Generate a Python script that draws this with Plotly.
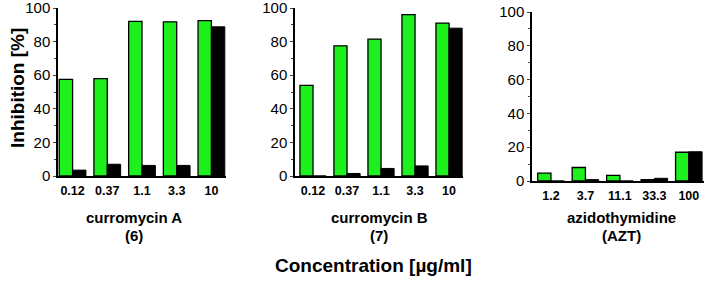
import plotly.graph_objects as go

W, H = 708, 284

conc_a = ["0.12", "0.37", "1.1", "3.3", "10"]
green_a = [57.5, 58, 92, 91.8, 92.5]
black_a = [3.5, 7, 6.3, 6.3, 88.8]

conc_b = ["0.12", "0.37", "1.1", "3.3", "10"]
green_b = [54, 77.5, 81.5, 96, 91]
black_b = [0, 1.5, 4.5, 6, 88]

conc_c = ["1.2", "3.7", "11.1", "33.3", "100"]
green_c = [4.7, 8, 3.3, 0.8, 17]
black_c = [0, 0.8, 0, 1.6, 17.3]

panel_titles = [("curromycin A", "(6)"), ("curromycin B", "(7)"), ("azidothymidine", "(AZT)")]
y_title = "Inhibition [%]"
x_title = "Concentration [µg/ml]"

GREEN = "#1ef01e"
FONT = "Liberation Sans, Arial, sans-serif"

panels = [(conc_a, green_a, black_a), (conc_b, green_b, black_b), (conc_c, green_c, black_c)]
xdom_px = [(58, 226), (295, 463), (532, 704)]
ydom_px = [(8, 176), (8, 176), (12, 181)]
xranges = [[-0.42, 4.42], [-0.53, 4.41], [-0.55, 4.44]]
title_dx = [-8, 0, 3]

fig = go.Figure()
layout = dict(
    width=W, height=H, margin=dict(l=0, r=0, t=0, b=0, autoexpand=False),
    paper_bgcolor="white", plot_bgcolor="white",
    showlegend=False, barmode="group", bargap=0.23, bargroupgap=0,
    font=dict(family=FONT, color="black"),
)
annotations = []
for i, (cats, g, b) in enumerate(panels):
    n = "" if i == 0 else str(i + 1)
    fig.add_trace(go.Bar(x=cats, y=g, marker=dict(color=GREEN, line=dict(color="black", width=1.3)),
                         xaxis="x" + n, yaxis="y" + n, offsetgroup="g", cliponaxis=False))
    fig.add_trace(go.Bar(x=cats, y=b, marker=dict(color="black", line=dict(color="black", width=1)),
                         xaxis="x" + n, yaxis="y" + n, offsetgroup="b", cliponaxis=False))
    x0, x1 = xdom_px[i]
    yt, yb = ydom_px[i]
    layout["xaxis" + n] = dict(
        domain=[x0 / W, x1 / W], anchor="y" + n, type="category", range=xranges[i],
        showline=True, linecolor="black", linewidth=1.5, ticks="", showgrid=False,
        tickfont=dict(size=12.5, family=FONT, weight="bold"), ticklabelstandoff=2,
        automargin=False, ticklabeloverflow="allow",
    )
    layout["yaxis" + n] = dict(
        domain=[1 - yb / H, 1 - yt / H], anchor="x" + n, range=[0, 100],
        tickvals=[0, 20, 40, 60, 80, 100], showline=True, linecolor="black", linewidth=1.5,
        ticks="outside", ticklen=3, tickwidth=1, showgrid=False, zeroline=False,
        minor=dict(dtick=10, ticks="outside", ticklen=2, tickwidth=1),
        tickfont=dict(size=15, family=FONT), automargin=False, ticklabeloverflow="allow",
    )
    cx = ((x0 + x1) / 2 + title_dx[i]) / W
    for line, ypx in zip(panel_titles[i], (217, 235)):
        annotations.append(dict(
            text="<b>" + line + "</b>", x=cx, y=1 - ypx / H, xref="paper", yref="paper",
            showarrow=False, font=dict(size=15, family=FONT), xanchor="center", yanchor="middle",
        ))

annotations.append(dict(text="<b>" + y_title + "</b>", x=17 / W, y=1 - 88 / H, xref="paper", yref="paper",
                         textangle=-90, showarrow=False, font=dict(size=19, family=FONT),
                         xanchor="center", yanchor="middle"))
annotations.append(dict(text="<b>" + x_title + "</b>", x=373 / W, y=1 - 265 / H, xref="paper", yref="paper",
                         showarrow=False, font=dict(size=19, family=FONT),
                         xanchor="center", yanchor="middle"))
layout["annotations"] = annotations
fig.update_layout(**layout)
fig.write_html("out.html", config={"displayModeBar": False},
               post_script="document.body.style.margin='0';document.body.style.overflow='hidden';")
